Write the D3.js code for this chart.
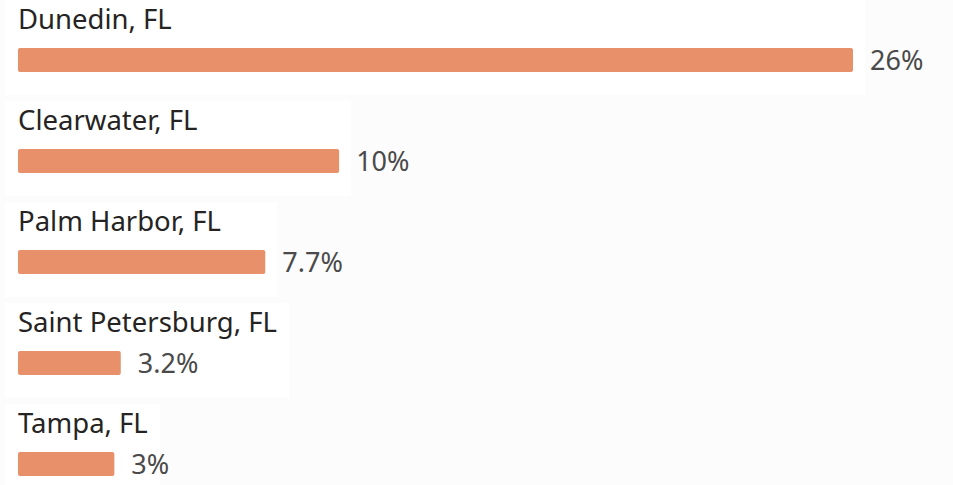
<!DOCTYPE html>
<html>
<head>
<meta charset="utf-8">
<script src="https://cdn.jsdelivr.net/npm/d3@7"></script>
<style>
  body { margin: 0; background: #fcfcfc; }
  .city { font-family: "Noto Sans", "Open Sans", sans-serif; font-size: 27.5px; fill: #252423; }
  .val { font-family: "Noto Sans", "Open Sans", sans-serif; font-size: 27px; fill: #4a4a4a; }
</style>
</head>
<body>
<svg id="canvas" width="953" height="485"></svg>
<script>
let cities = ["Dunedin, FL", "Clearwater, FL", "Palm Harbor, FL", "Saint Petersburg, FL", "Tampa, FL"]
let shares = [26, 10, 7.7, 3.2, 3]
let shareLabels = ["26%", "10%", "7.7%", "3.2%", "3%"]

let canvas = d3.select('#canvas')

let left = 18
let x = d3.scaleLinear().domain([0, 26]).range([0, 835])
let y = d3.scaleBand().domain(cities).range([0, 505])

let rows = canvas.selectAll('g.row')
  .data(cities)
  .enter()
  .append('g')
  .attr('class', 'row')
  .attr('transform', d => 'translate(0,' + y(d) + ')')

// light panel behind each item
rows.append('rect')
  .attr('class', 'panel')
  .attr('x', 5)
  .attr('y', 0)
  .attr('height', y.bandwidth() - 6)
  .attr('fill', '#ffffff')

rows.append('text')
  .attr('class', 'city')
  .attr('x', left)
  .attr('y', 29)
  .text(d => d)

rows.append('rect')
  .attr('class', 'bar')
  .attr('x', left)
  .attr('y', 48)
  .attr('height', 24)
  .attr('rx', 2)
  .attr('width', (d, i) => x(shares[i]))
  .attr('fill', '#e8906a')

rows.append('text')
  .attr('class', 'val')
  .attr('x', (d, i) => left + x(shares[i]) + 17)
  .attr('y', 70)
  .text((d, i) => shareLabels[i])

// panel covers the city label and the bar
rows.each(function (d, i) {
  let g = d3.select(this)
  let b = g.select('text.city').node().getBBox()
  let w = Math.max(b.x + b.width, left + x(shares[i])) + 12
  g.select('rect.panel').attr('width', w - 5)
})
</script>
</body>
</html>
